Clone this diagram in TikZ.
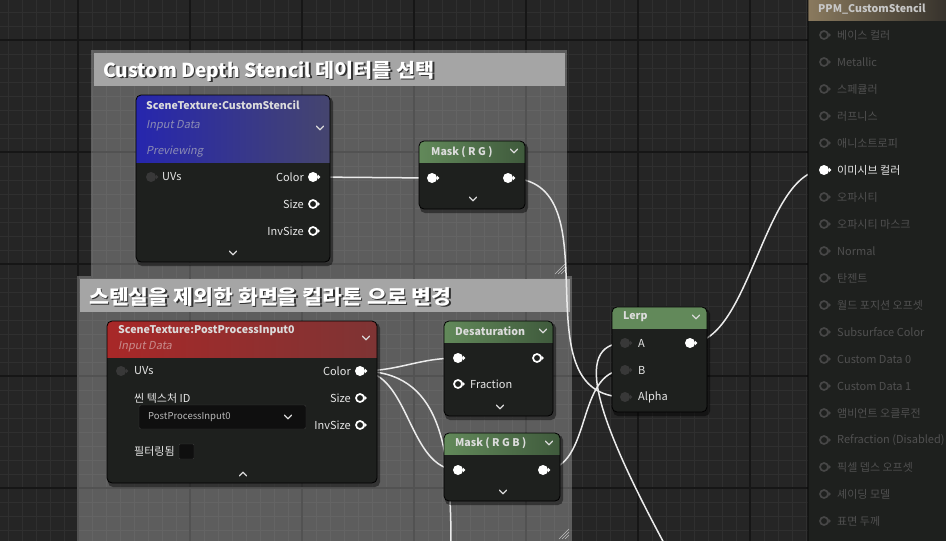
\documentclass[tikz,border=0pt]{standalone}
\usepackage{fontspec}
\setmainfont{Noto Sans CJK KR}
\newfontfamily\itfont{Noto Sans CJK KR}[FakeSlant=0.2]
\newfontfamily\kowide{Noto Sans CJK KR}[FakeStretch=1.08]
\usetikzlibrary{shapes.geometric}

\definecolor{bg}{HTML}{252525}
\definecolor{gridmin}{HTML}{2F2F2F}
\definecolor{gridmaj}{HTML}{161616}
\definecolor{nodebg}{HTML}{1E201E}
\definecolor{txt}{HTML}{E6E6E6}
\definecolor{ttlc}{HTML}{DCDCDC}
\definecolor{pindk}{HTML}{383838}
\definecolor{resdim}{HTML}{464646}
\definecolor{reslbl}{HTML}{505050}
\definecolor{chead}{HTML}{A5A5A5}
\definecolor{blueL}{HTML}{2626AE}
\definecolor{blueM}{HTML}{0C0C52}
\definecolor{blueR}{HTML}{45456E}
\definecolor{redL}{HTML}{A82828}
\definecolor{redM}{HTML}{6A1010}
\definecolor{redR}{HTML}{7E3434}
\definecolor{grnL}{HTML}{62895A}
\definecolor{grnM}{HTML}{3A5438}
\definecolor{grnR}{HTML}{3F5A3C}
\definecolor{brnL}{HTML}{8A7A5E}
\definecolor{brnR}{HTML}{2E2B27}
\definecolor{subblue}{HTML}{8C8CB4}
\definecolor{subred}{HTML}{C88C8C}
\definecolor{ddfill}{HTML}{0F0F0F}
\definecolor{ddline}{HTML}{3A3A3A}
\definecolor{ddtext}{HTML}{B8B8B8}
\definecolor{resttl}{HTML}{C8C8C8}

\pgfdeclarelayer{back}
\pgfdeclarelayer{wires}
\pgfsetlayers{back,wires,main}

\tikzset{
  nodebox/.style={rectangle, rounded corners=5, fill=nodebg, inner sep=0},
  lbl/.style={font=\fontsize{11}{13}\selectfont, text=txt, inner sep=0},
  ttl/.style={font=\bfseries\fontsize{10.6}{13}\selectfont, text=ttlc, inner sep=0, anchor=west},
  sub/.style={font=\itfont\fontsize{11}{13}\selectfont, inner sep=0, anchor=west},
  ctitle/.style={font=\bfseries\fontsize{20}{24}\selectfont, inner sep=0, anchor=west},
  pintip/.style={label={[isosceles triangle, isosceles triangle apex angle=90, fill=#1,
    inner sep=0, minimum height=2.5, minimum width=4.5, label distance=-0.6]east:{}}},
  pinon/.style={circle, fill=white, inner sep=0, minimum size=10, pintip=white},
  pinoff/.style={circle, draw=white, line width=1.7, fill=nodebg, inner sep=0, minimum size=8, pintip=white},
  pindim/.style={circle, fill=pindk, inner sep=0, minimum size=10, pintip=pindk},
  pinres/.style={circle, draw=resdim, line width=1.7, inner sep=0, minimum size=8, pintip=resdim},
  wire/.style={draw=white!92!black, line width=1.5},
  chev/.pic={\draw[white!85!black, line width=1.3, line cap=round, line join=round]
    (-3.5,-1.8) -- (0,1.8) -- (3.5,-1.8);},
  chevup/.pic={\draw[white!85!black, line width=1.3, line cap=round, line join=round]
    (-3.5,1.8) -- (0,-1.8) -- (3.5,1.8);},
}

% name, x1, y1, x2, y2, header bottom, header shading
\newcommand\uebox[7]{%
  \fill[black, opacity=0.45, rounded corners=5] (#2+1,#3+2) rectangle (#4+3,#5+4);
  \node[nodebox, anchor=north west, minimum width=#4-#2, minimum height=#5-#3] (#1) at (#2,#3) {};
  \begin{scope}
    \clip[rounded corners=5] (#2,#3) rectangle (#4,#5);
    \shade[#7] (#2,#3) rectangle (#4,#6);
  \end{scope}
  \draw[black, line width=0.8, rounded corners=5] (#2,#3) rectangle (#4,#5);
}

\begin{document}
\begin{tikzpicture}[x=1pt, y=-1pt]
  \useasboundingbox (0,0) rectangle (946,541);

  \begin{pgfonlayer}{back}
    \fill[bg] (0,0) rectangle (946,541);
    \foreach \i in {0,...,67} \draw[gridmin, line width=0.8] (8+14*\i,0) -- (8+14*\i,541);
    \foreach \i in {0,...,38} \draw[gridmin, line width=0.8] (0,12+14*\i) -- (946,12+14*\i);
    \foreach \i in {0,...,8} \draw[gridmaj, line width=1.4] (-34+112*\i,0) -- (-34+112*\i,541);
    \foreach \i in {0,...,4} \draw[gridmaj, line width=1.4] (0,40+112*\i) -- (946,40+112*\i);

    % comments
    \fill[white, opacity=0.26] (91,50) rectangle (567,276);
    \fill[chead] (94,53) rectangle (565,86);
    \node[ctitle, text=black, opacity=0.7] at (104.5,72.5) {\fontsize{19.2}{24}\selectfont Custom Depth Stencil {\kowide 데이터를 선택}};
    \node[ctitle, text=white] (cmtA) at (103,71) {\fontsize{19.2}{24}\selectfont Custom Depth Stencil {\kowide 데이터를 선택}};
    \foreach \d in {4,7,10} \draw[white!75!black, line width=0.6] (565-\d,274) -- (565,274-\d);

    \fill[white, opacity=0.26] (77,276) rectangle (572,560);
    \fill[chead] (80,279) rectangle (570,312);
    \node[ctitle, text=black, opacity=0.7] at (90.5,298.5) {\kowide 스텐실을 제외한 화면을 컬라톤 으로 변경};
    \node[ctitle, text=white] (cmtB) at (89,297) {\kowide 스텐실을 제외한 화면을 컬라톤 으로 변경};
    \foreach \d in {4,7,10} \draw[white!75!black, line width=0.6] (569-\d,539) -- (569,539-\d);
  \end{pgfonlayer}

  % SceneTexture:CustomStencil
  \uebox{stencil}{136}{95}{330}{262}{162}{left color=blueL, middle color=blueM, right color=blueR}
  \node[ttl] at (146,105) {SceneTexture:CustomStencil};
  \node[sub, text=subblue] at (146,126) {Input Data};
  \pic at (320,128) {chev};
  \node[sub, text=subblue] at (146,152) {Previewing};
  \node[pindim] (stUV) at (151,177) {};
  \node[lbl, anchor=west] at (162,177) {UVs};
  \node[lbl, anchor=east] at (304,177) {Color};
  \node[pinon] (stColor) at (313,177) {};
  \node[lbl, anchor=east] at (304,204) {Size};
  \node[pinoff] (stSize) at (313,204) {};
  \node[lbl, anchor=east] at (304,231) {InvSize};
  \node[pinoff] (stInv) at (313,231) {};
  \pic at (233,253) {chev};

  % Mask ( R G )
  \uebox{maskrg}{419}{141}{525}{209}{162}{left color=grnL, right color=grnR}
  \node[ttl] at (431,152) {Mask ( R G )};
  \pic at (514,151) {chev};
  \node[pinon] (mrgIn) at (432,178) {};
  \node[pinon] (mrgOut) at (508,178) {};
  \pic at (473,199) {chev};

  % SceneTexture:PostProcessInput0
  \uebox{post}{107}{321}{377}{483}{357}{left color=redL, middle color=redM, right color=redR}
  \node[ttl] at (118,331) {SceneTexture:PostProcessInput0};
  \node[sub, text=subred] at (118,347) {Input Data};
  \pic at (366,338) {chev};
  \node[pindim] (ppUV) at (121,371) {};
  \node[lbl, anchor=west] at (134,371) {UVs};
  \node[lbl, anchor=east] at (351,371) {Color};
  \node[pinon] (ppColor) at (360,371) {};
  \node[lbl, anchor=west] at (134,398) {씬 텍스처 ID};
  \node[lbl, anchor=east] at (351,398) {Size};
  \node[pinoff] (ppSize) at (360,398) {};
  \draw[fill=ddfill, draw=ddline, rounded corners=2] (139,405) rectangle (306,429);
  \node[lbl, anchor=west, font=\fontsize{9.5}{11}\selectfont, text=ddtext] (ppID) at (148,417) {PostProcessInput0};
  \pic at (288,417) {chev};
  \node[lbl, anchor=east] at (351,425) {InvSize};
  \node[pinoff] (ppInv) at (360,425) {};
  \node[lbl, anchor=west] at (134,451) {필터링됨};
  \draw[fill=ddfill, draw=ddline, rounded corners=1] (179,444) rectangle (194,459);
  \pic at (243,474) {chevup};

  % Desaturation
  \uebox{desat}{444}{321}{553}{416}{342}{left color=grnL, right color=grnR}
  \node[ttl] at (455,331) {Desaturation};
  \pic at (543,331) {chev};
  \node[pinon] (desIn) at (458,358) {};
  \node[pinoff] (desOut) at (537,358) {};
  \node[pinoff] (desFrac) at (458,384) {};
  \node[lbl, anchor=west] at (470,384) {Fraction};
  \pic at (500,407) {chev};

  % Mask ( R G B )
  \uebox{maskrgb}{444}{433}{560}{501}{454}{left color=grnL, right color=grnR}
  \node[ttl] at (455,443) {Mask ( R G B )};
  \pic at (549,443) {chev};
  \node[pinon] (mrgbIn) at (458,470) {};
  \node[pinon] (mrgbOut) at (543,470) {};
  \pic at (503,492) {chev};

  % Lerp
  \uebox{lerp}{612}{307}{707}{412}{328}{left color=grnL, middle color=grnM, right color=grnL}
  \node[ttl] at (623,317) {Lerp};
  \pic at (696,317) {chev};
  \node[pindim] (lerpA) at (625,343) {};
  \node[lbl, anchor=west] at (638,343) {A};
  \node[pindim] (lerpB) at (625,370) {};
  \node[lbl, anchor=west] at (638,370) {B};
  \node[pindim] (lerpAlpha) at (625,397) {};
  \node[lbl, anchor=west] at (638,397) {Alpha};
  \node[pinon] (lerpOut) at (690,343) {};

  % PPM_CustomStencil
  \uebox{result}{808}{-6}{960}{560}{20}{left color=brnL, right color=brnR}
  \node[ttl, text=resttl] at (818,9) {PPM\_CustomStencil};
  \foreach \t [count=\i] in {베이스 컬러, Metallic, 스페큘러, 러프니스, 애니소트로피, 이미시브 컬러,
      오파시티, 오파시티 마스크, Normal, 탄젠트, 월드 포지션 오프셋, Subsurface Color,
      Custom Data 0, Custom Data 1, 앰비언트 오클루전, Refraction (Disabled),
      픽셀 뎁스 오프셋, 셰이딩 모델, 표면 두께}{
    \ifnum\i=6 \def\c{txt}\def\p{pinon}\else \def\c{reslbl}\def\p{pinres}\fi
    \node[\p] (res\i) at (824,8+27*\i) {};
    \node[lbl, text=\c, anchor=west] at (837,8+27*\i) {\t};
  }

  \coordinate (offA) at (665,545);
  \coordinate (offB) at (451,545);

  \begin{pgfonlayer}{wires}
    \draw[wire] (stColor) -- (mrgIn);
    \draw[wire] (mrgOut.center) .. controls +(110,0) and +(-110,0) .. (lerpAlpha.center);
    \draw[wire] (ppColor.center) .. controls +(40,0) and +(-40,0) .. (desIn.center);
    \draw[wire] (ppColor.center) .. controls +(50,0) and +(-50,0) .. (mrgbIn.center);
    \draw[wire] (ppColor.center) .. controls +(80,0) and +(0,-100) .. (offB);
    \draw[wire] (mrgbOut.center) .. controls +(50,0) and +(-50,0) .. (lerpB.center);
    \draw[wire] (lerpA.center) .. controls +(-55,0) and +(-65,-121) .. (offA);
    \draw[wire] (lerpOut.center) .. controls +(60,0) and +(-60,0) .. (res6.center);
  \end{pgfonlayer}
\end{tikzpicture}
\end{document}
